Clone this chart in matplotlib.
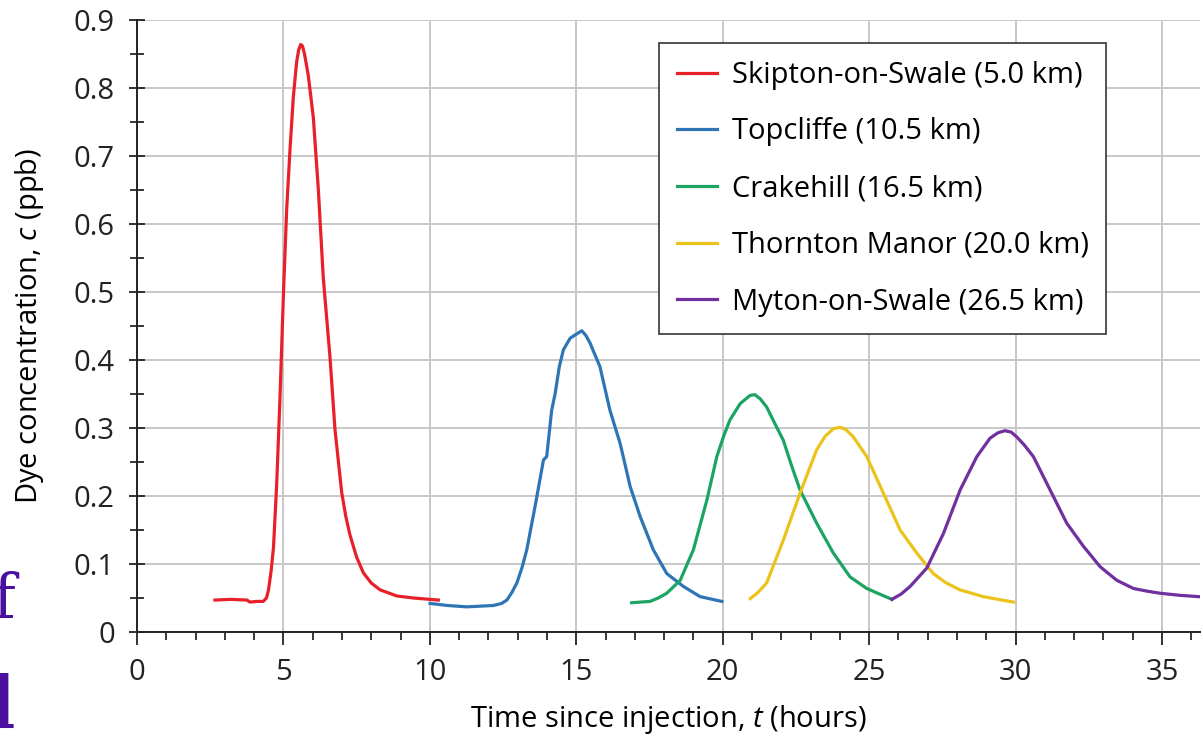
import matplotlib
matplotlib.use("Agg")
import matplotlib.pyplot as plt
from matplotlib.ticker import MultipleLocator, FuncFormatter

plt.rcParams['font.family'] = ['Open Sans', 'DejaVu Sans']
plt.rcParams['mathtext.fontset'] = 'custom'
plt.rcParams['mathtext.rm'] = 'Open Sans'
plt.rcParams['mathtext.it'] = 'Open Sans:italic'

# dye tracer curves (t in hours, c in ppb)
skipton_t = [2.66, 3.2, 3.75, 3.86, 4.1, 4.31, 4.42, 4.49, 4.58, 4.66, 4.77, 4.88, 5.0, 5.11, 5.23, 5.34,
             5.45, 5.52, 5.59, 5.65, 5.72, 5.85, 6.02, 6.19, 6.36, 6.59, 6.76, 6.99, 7.13, 7.27, 7.5,
             7.73, 8.0, 8.3, 8.87, 9.44, 10.29]
skipton_c = [0.047, 0.048, 0.047, 0.044, 0.045, 0.045, 0.050, 0.062, 0.090, 0.124, 0.218, 0.342, 0.497,
             0.621, 0.714, 0.788, 0.838, 0.856, 0.864, 0.862, 0.850, 0.818, 0.757, 0.652, 0.521, 0.404,
             0.298, 0.205, 0.170, 0.143, 0.110, 0.087, 0.072, 0.062, 0.053, 0.050, 0.047]

topcliffe_t = [10.01, 10.6, 11.26, 12.17, 12.45, 12.63, 12.8, 12.97, 13.15, 13.31, 13.59, 13.88, 13.99,
               14.16, 14.28, 14.42, 14.56, 14.79, 15.0, 15.19, 15.33, 15.47, 15.81, 16.15, 16.5, 16.84,
               17.18, 17.63, 18.09, 18.66, 19.23, 19.97]
topcliffe_c = [0.042, 0.039, 0.037, 0.039, 0.042, 0.047, 0.058, 0.072, 0.095, 0.121, 0.184, 0.253, 0.258,
               0.326, 0.351, 0.390, 0.415, 0.432, 0.438, 0.443, 0.436, 0.425, 0.390, 0.326, 0.277, 0.214,
               0.170, 0.121, 0.086, 0.067, 0.052, 0.045]

crakehill_t = [16.89, 17.52, 17.8, 18.09, 18.55, 19.0, 19.46, 19.8, 20.05, 20.25, 20.6, 20.94, 21.1, 21.28,
               21.5, 21.8, 22.07, 22.35, 22.64, 23.21, 23.78, 24.35, 24.92, 25.4, 25.78]
crakehill_c = [0.043, 0.045, 0.050, 0.057, 0.076, 0.121, 0.194, 0.258, 0.290, 0.312, 0.336, 0.348, 0.349,
               0.343, 0.331, 0.305, 0.282, 0.245, 0.209, 0.160, 0.116, 0.081, 0.064, 0.055, 0.048]

thornton_t = [20.94, 21.2, 21.5, 22.07, 22.64, 23.21, 23.5, 23.78, 24.0, 24.2, 24.46, 24.92, 25.49, 26.06,
              26.63, 27.19, 27.6, 28.1, 28.9, 29.4, 29.93]
thornton_c = [0.049, 0.058, 0.072, 0.135, 0.204, 0.268, 0.288, 0.299, 0.301, 0.298, 0.287, 0.258, 0.204,
              0.150, 0.116, 0.086, 0.073, 0.062, 0.052, 0.048, 0.044]

myton_t = [25.78, 26.1, 26.4, 26.97, 27.54, 28.11, 28.68, 29.13, 29.4, 29.64, 29.85, 30.04, 30.3, 30.61,
           31.18, 31.75, 32.32, 32.89, 33.46, 34.03, 34.5, 34.94, 35.6, 36.25]
myton_c = [0.048, 0.056, 0.067, 0.094, 0.145, 0.209, 0.258, 0.285, 0.293, 0.296, 0.294, 0.287, 0.275,
           0.258, 0.209, 0.160, 0.126, 0.096, 0.076, 0.064, 0.060, 0.057, 0.054, 0.052]

labels = ['Skipton-on-Swale (5.0 km)', 'Topcliffe (10.5 km)', 'Crakehill (16.5 km)',
          'Thornton Manor (20.0 km)', 'Myton-on-Swale (26.5 km)']
colors = ['#e8202a', '#2e75b6', '#1ca463', '#ecc31c', '#7030a0']

fig = plt.figure(figsize=(12.03, 7.36), dpi=100)
ax = fig.add_axes([0.1139, 0.1413, 0.8836, 0.8315])

series = [(skipton_t, skipton_c), (topcliffe_t, topcliffe_c), (crakehill_t, crakehill_c),
          (thornton_t, thornton_c), (myton_t, myton_c)]
for (t, c), lab, col in zip(series, labels, colors):
    ax.plot(t, c, color=col, lw=2.3, label=lab, solid_joinstyle='round')

ax.set_xlim(0, 36.3)
ax.set_ylim(0, 0.9)
ax.xaxis.set_major_locator(MultipleLocator(5))
ax.xaxis.set_minor_locator(MultipleLocator(1))
ax.yaxis.set_major_locator(MultipleLocator(0.1))
ax.yaxis.set_minor_locator(MultipleLocator(0.05))
ax.yaxis.set_major_formatter(FuncFormatter(lambda v, p: '0' if abs(v) < 1e-9 else '%.1f' % v))

ax.grid(True, which='major', color='#c8c8c8', lw=1.4)
ax.set_axisbelow(True)
for s in ['top', 'right']:
    ax.spines[s].set_visible(False)
for s in ['left', 'bottom']:
    ax.spines[s].set_color('#222222')
    ax.spines[s].set_linewidth(1.4)

ax.tick_params(axis='both', which='major', labelsize=21, colors='#222222', width=1.3)
ax.tick_params(axis='x', which='major', direction='out', length=9, pad=10)
ax.tick_params(axis='x', which='minor', direction='out', length=6, width=1.1)
ax.tick_params(axis='y', which='major', direction='inout', length=12, pad=10)
ax.tick_params(axis='y', which='minor', direction='inout', length=10, width=1.1)

ax.set_xlabel('Time since injection, $\\mathit{t}$ (hours)', fontsize=21, labelpad=11)
ax.set_ylabel('Dye concentration, $\\mathit{c}$ (ppb)', fontsize=21, labelpad=20)

leg = ax.legend(loc='upper right', bbox_to_anchor=(0.912, 0.962), borderaxespad=0,
                fontsize=21, handlelength=1.4, labelspacing=0.95, fancybox=False,
                edgecolor='#444444', framealpha=1, borderpad=0.6, handletextpad=0.5)
leg.get_frame().set_linewidth(1.3)

# cropped letters from the neighbouring page at the left edge
fig.text(0.0125, 0.16, 'f', family='DejaVu Serif', fontsize=44, color='#4b0fa0', ha='right', va='baseline')
fig.text(0.0125, 0.01, 'l', family='DejaVu Serif', fontsize=52, color='#4b0fa0', ha='right', va='baseline',
         weight='bold')

fig.savefig('out.png', dpi=100)
